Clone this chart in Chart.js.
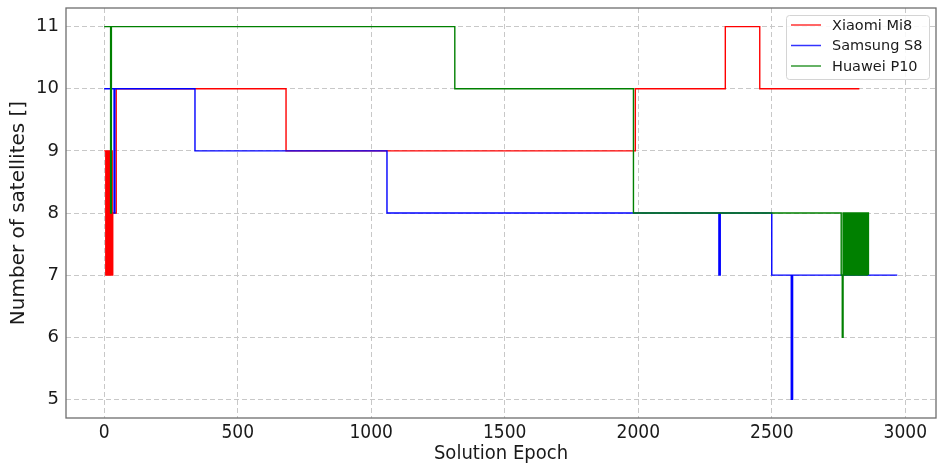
<!DOCTYPE html>
<html>
<head>
<meta charset="utf-8">
<script src="https://cdn.jsdelivr.net/npm/chart.js@4/dist/chart.umd.min.js"></script>
<style>
  html, body { margin: 0; padding: 0; background: #fff; }
  #wrap { width: 939px; height: 466px; }
</style>
</head>
<body>
<div id="wrap"><canvas id="sats-canvas"></canvas></div>
<script>
// step points: value holds from its epoch until the next epoch
const xiaomiEpoch = [0, 6, 9, 12, 15, 18, 21, 24, 27, 30, 32, 45, 681, 1989, 2326, 2455, 2828];
const xiaomiSats  = [9, 7, 9, 7, 9, 7, 9, 7, 9, 7, 8, 10, 9, 10, 11, 10, 10];

const samsungEpoch = [0, 37, 40, 340, 1059, 2302, 2307, 2500, 2573, 2578, 2970];
const samsungSats  = [10, 8, 10, 9, 8, 7, 8, 7, 5, 7, 7];

const huaweiEpoch = [0, 24, 27, 1313, 1982, 2760, 2764, 2767, 2772, 2777, 2782, 2787, 2792, 2797,
                     2802, 2807, 2812, 2817, 2822, 2827, 2832, 2837, 2842, 2847, 2852, 2857, 2862];
const huaweiSats  = [11, 8, 11, 10, 8, 7, 6, 8, 7, 8, 7, 8, 7, 8,
                     7, 8, 7, 8, 7, 8, 7, 8, 7, 8, 7, 8, 7];

const seriesNames = ['Xiaomi Mi8', 'Samsung S8', 'Huawei P10'];
const seriesColors = ['#ff0000', '#0000ff', '#008000'];

const xTicks = [0, 500, 1000, 1500, 2000, 2500, 3000];
const yTicks = [5, 6, 7, 8, 9, 10, 11];

function toPoints(xs, ys) {
    return xs.map(function (x, i) { return {x: x, y: ys[i]}; });
}

const gridDash = [5, 3];
const narrowFont = '"Liberation Sans Narrow", "DejaVu Sans Condensed", "DejaVu Sans"';

const frameAndLegend = {
    id: 'frameAndLegend',
    afterDraw: function (chart) {
        const ctx = chart.ctx;
        const a = chart.chartArea;
        ctx.save();
        ctx.strokeStyle = '#6e6e6e';
        ctx.lineWidth = 1.3;
        ctx.strokeRect(a.left, a.top, a.right - a.left, a.bottom - a.top);

        // legend box, upper right
        const bx = 786, by = 15, bw = 143, bh = 64;
        ctx.fillStyle = 'rgba(255,255,255,0.85)';
        ctx.strokeStyle = '#d4d4d4';
        ctx.lineWidth = 1;
        ctx.beginPath();
        ctx.roundRect(bx + 0.5, by + 0.5, bw, bh, 3);
        ctx.fill();
        ctx.stroke();
        ctx.font = '14.5px "DejaVu Sans"';
        ctx.textBaseline = 'middle';
        for (let i = 0; i < seriesNames.length; i++) {
            const ly = 25 + i * 20.5;
            ctx.strokeStyle = seriesColors[i];
            ctx.globalAlpha = 0.8;
            ctx.lineWidth = 1.5;
            ctx.beginPath();
            ctx.moveTo(791, ly);
            ctx.lineTo(821, ly);
            ctx.stroke();
            ctx.globalAlpha = 1;
            ctx.fillStyle = '#1a1a1a';
            ctx.fillText(seriesNames[i], 832, ly + 1);
        }
        ctx.restore();
    }
};

const ctx = document.getElementById('sats-canvas');
const chart = new Chart(ctx, {
    type: 'line',
    data: {
        datasets: [
            {label: seriesNames[0], data: toPoints(xiaomiEpoch, xiaomiSats), borderColor: seriesColors[0], order: 3},
            {label: seriesNames[1], data: toPoints(samsungEpoch, samsungSats), borderColor: seriesColors[1], order: 2},
            {label: seriesNames[2], data: toPoints(huaweiEpoch, huaweiSats), borderColor: seriesColors[2], order: 1}
        ]
    },
    options: {
        responsive: true,
        maintainAspectRatio: false,
        animation: false,
        layout: {padding: {top: 8, right: 3, left: 0, bottom: 0}},
        elements: {
            line: {stepped: true, borderWidth: 1.4, tension: 0, fill: false},
            point: {radius: 0, hoverRadius: 0}
        },
        plugins: {legend: {display: false}, tooltip: {enabled: false}},
        scales: {
            x: {
                type: 'linear',
                min: -143,
                max: 3115,
                afterFit: function (s) {
                    s.height = 48;
                    s.paddingLeft = 0;
                    s.paddingRight = 0;
                },
                afterBuildTicks: function (s) { s.ticks = xTicks.map(function (v) { return {value: v}; }); },
                ticks: {
                    padding: 4,
                    color: '#1a1a1a',
                    font: {family: narrowFont, size: 19},
                    maxRotation: 0,
                    callback: function (v) { return String(v); }
                },
                grid: {color: '#c8c8c8', drawTicks: false, lineWidth: 1},
                border: {display: false, dash: gridDash},
                title: {
                    display: true,
                    text: 'Solution Epoch',
                    color: '#1a1a1a',
                    padding: {top: 0, bottom: 0},
                    font: {family: narrowFont, size: 20, lineHeight: 1.2}
                }
            },
            y: {
                min: 4.7,
                max: 11.3,
                afterFit: function (s) {
                    s.width = 66;
                    s.paddingTop = 0;
                    s.paddingBottom = 0;
                },
                afterBuildTicks: function (s) { s.ticks = yTicks.map(function (v) { return {value: v}; }); },
                ticks: {
                    padding: 7,
                    color: '#1a1a1a',
                    font: {family: '"DejaVu Sans"', size: 18},
                    callback: function (v) { return String(v); }
                },
                grid: {color: '#c8c8c8', drawTicks: false, lineWidth: 1},
                border: {display: false, dash: gridDash},
                title: {
                    display: true,
                    text: 'Number of satellites []',
                    color: '#1a1a1a',
                    padding: {top: 7, bottom: 0},
                    font: {family: '"DejaVu Sans"', size: 20, lineHeight: 1.2}
                }
            }
        }
    },
    plugins: [frameAndLegend]
});
</script>
</body>
</html>
